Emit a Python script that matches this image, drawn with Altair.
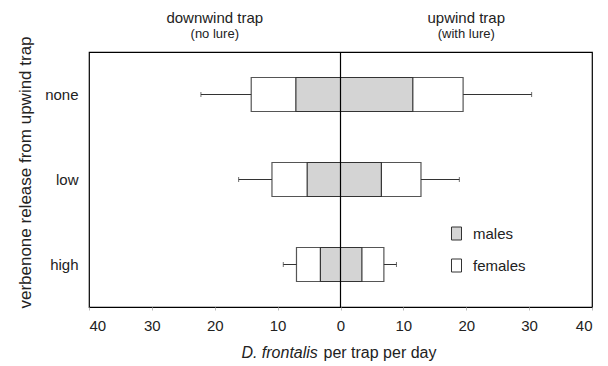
import altair as alt
import pandas as pd

categories = ["none", "low", "high"]
females_down = [14.2, 10.9, 7.0]
females_up = [19.5, 12.8, 6.9]
males_down = [7.1, 5.3, 3.2]
males_up = [11.5, 6.5, 3.4]
whisker_down = [22.2, 16.2, 9.1]
whisker_up = [30.4, 18.9, 8.9]

sexes = ["males", "females"]
x_ticks = [-40, -30, -20, -10, 0, 10, 20, 30, 40]

FONT = "Liberation Sans"

bars = []
for i, c in enumerate(categories):
    bars.append({"cat": c, "sex": "females", "lo": -females_down[i], "hi": females_up[i]})
for i, c in enumerate(categories):
    bars.append({"cat": c, "sex": "males", "lo": -males_down[i], "hi": males_up[i]})
bars = pd.DataFrame(bars)

wh = []
for i, c in enumerate(categories):
    wh.append({"cat": c, "start": -females_down[i], "end": -whisker_down[i]})
    wh.append({"cat": c, "start": females_up[i], "end": whisker_up[i]})
wh = pd.DataFrame(wh)

top = pd.DataFrame({"x": [-20, 20], "t1": ["downwind trap", "upwind trap"],
                    "t2": ["(no lure)", "(with lure)"]})

yenc = alt.Y("cat:N", sort=categories,
             scale=alt.Scale(paddingInner=0.6, paddingOuter=0.3),
             axis=alt.Axis(title="verbenone release from upwind trap", ticks=False,
                           domain=False, labelFontSize=15, labelPadding=11,
                           titleFontSize=17, titleFontWeight="normal",
                           titleX=-59, titleY=120, titleBaseline="alphabetic",
                           titleAngle=270,
                           labelColor="#222", titleColor="#222"))
xscale = alt.Scale(domain=[-40, 40], nice=False)
xaxis = alt.Axis(values=x_ticks, labelExpr="abs(datum.value)", title=None, grid=False,
                 domain=False, tickSize=3, tickColor="#bbb", labelFontSize=15,
                 labelPadding=8, labelColor="#222")

color = alt.Color("sex:N", scale=alt.Scale(domain=sexes, range=["#d4d4d4", "white"]),
                  legend=alt.Legend(title=None, orient="none", legendX=360, legendY=174,
                                    symbolType="M-0.77,-1L0.77,-1L0.77,1L-0.77,1Z",
                                    symbolSize=169, symbolStrokeColor="#333",
                                    symbolStrokeWidth=1, labelFontSize=15,
                                    labelOffset=9, rowPadding=15, padding=0,
                                    labelColor="#222"))

base_bar = alt.Chart(bars)
fem = base_bar.transform_filter(alt.datum.sex == "females").mark_bar(
    stroke="#555", strokeWidth=1.2, cornerRadius=0).encode(
    x=alt.X("lo:Q", scale=xscale, axis=xaxis), x2="hi:Q", y=yenc, color=color)
mal = base_bar.transform_filter(alt.datum.sex == "males").mark_bar(
    stroke="#333", strokeWidth=1.2).encode(
    x=alt.X("lo:Q", scale=xscale), x2="hi:Q", y=alt.Y("cat:N", sort=categories), color=color)

wline = alt.Chart(wh).mark_rule(color="#333", strokeWidth=1).encode(
    x=alt.X("start:Q", scale=xscale), x2="end:Q", y=alt.Y("cat:N", sort=categories))
wcap = alt.Chart(wh).mark_tick(color="#333", thickness=1, size=5, orient="vertical").encode(
    x=alt.X("end:Q", scale=xscale), y=alt.Y("cat:N", sort=categories))

zero = alt.Chart(pd.DataFrame({"z": [0]})).mark_rule(color="black", strokeWidth=1.2).encode(
    x=alt.X("z:Q", scale=xscale))

t1 = alt.Chart(top).mark_text(font=FONT, fontSize=15, color="#222", baseline="middle").encode(
    x=alt.X("x:Q", scale=xscale), y=alt.value(-34), text="t1:N")
t2 = alt.Chart(top).mark_text(font=FONT, fontSize=13, color="#222", baseline="middle").encode(
    x=alt.X("x:Q", scale=xscale), y=alt.value(-18), text="t2:N")

xt = pd.DataFrame({"x": [-3.6], "t": ["D. frontalis"]})
xt2 = pd.DataFrame({"x": [-2.7], "t": ["per trap per day"]})
xt_a = alt.Chart(xt).mark_text(font=FONT, fontSize=16, fontStyle="italic", align="right",
                               baseline="middle", color="#222").encode(
    x=alt.X("x:Q", scale=xscale), y=alt.value(301), text="t:N")
xt_b = alt.Chart(xt2).mark_text(font=FONT, fontSize=16, align="left",
                                baseline="middle", color="#222").encode(
    x=alt.X("x:Q", scale=xscale), y=alt.value(301), text="t:N")

chart = alt.layer(fem, mal, wline, wcap, zero, t1, t2, xt_a, xt_b).properties(
    width=503, height=255,
    autosize=alt.AutoSizeParams(type="none"),
    padding={"left": 81, "top": 44, "right": 8, "bottom": 58},
).configure(font=FONT, background="white").configure_view(
    stroke="black", strokeWidth=1.2)

chart.save("out.html", embed_options={"renderer": "svg", "actions": False})
